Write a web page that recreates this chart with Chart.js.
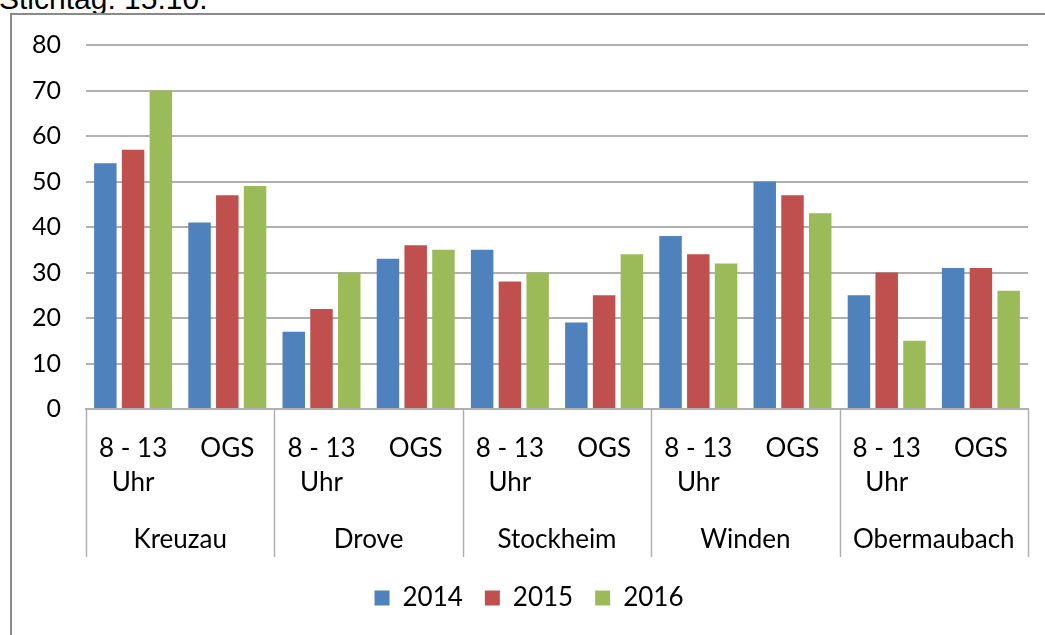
<!DOCTYPE html>
<html>
<head>
<meta charset="utf-8">
<script src="https://cdn.jsdelivr.net/npm/chart.js@4.4.1/dist/chart.umd.min.js"></script>
<style>
  html,body{margin:0;padding:0;background:#fff;overflow:hidden}
  #wrap{position:relative;width:1045px;height:635px}
  #stichtag{position:absolute;left:-1px;top:-16px;font:30px/30px "Liberation Sans",Arial,sans-serif;color:#000;white-space:nowrap}
  #frame{position:absolute;left:10px;top:13px;width:1100px;height:700px;border:2px solid #8a8a8a;box-sizing:border-box}
  #chart-box{position:absolute;left:0;top:0;width:1045px;height:635px}
</style>
</head>
<body>
<div id="wrap">
  <div id="stichtag">Stichtag: 15.10.</div>
  <div id="frame"></div>
  <div id="chart-box"><canvas id="kita-chart"></canvas></div>
</div>
<script>
// categories (inner) and groups (outer)
const subLabels = [['8 - 13','Uhr'],'OGS',['8 - 13','Uhr'],'OGS',['8 - 13','Uhr'],'OGS',['8 - 13','Uhr'],'OGS',['8 - 13','Uhr'],'OGS'];
const groups = ['Kreuzau','Drove','Stockheim','Winden','Obermaubach'];
const years = ['2014','2015','2016'];

const vals2014 = [54,41,17,33,35,19,38,50,25,31];
const vals2015 = [57,47,22,36,28,25,34,47,30,31];
const vals2016 = [70,49,30,35,30,34,32,43,15,26];

const yTicks = [0,10,20,30,40,50,60,70,80];

const colors = ['#4F81BD','#C0504D','#9BBB59'];
const gridColor = '#b0b0b0';
const txt = '#000';

// group separator lines below the category axis
const groupLines = {
  id: 'groupLines',
  afterDraw(chart) {
    const x2 = chart.scales.x2, area = chart.chartArea, ctx = chart.ctx;
    ctx.save();
    ctx.strokeStyle = gridColor;
    ctx.lineWidth = 1.5;
    for (let i = 0; i <= groups.length; i++) {
      const px = Math.round(x2.getPixelForValue(i - 0.5)) + 0.5;
      ctx.beginPath();
      ctx.moveTo(px, area.bottom);
      ctx.lineTo(px, x2.top + 59);
      ctx.stroke();
    }
    ctx.restore();
  }
};

const seriesData = [vals2014, vals2015, vals2016];

new Chart(document.getElementById('kita-chart'), {
  type: 'bar',
  data: {
    labels: subLabels,
    datasets: years.map((y,i) => ({
      label: y,
      data: seriesData[i],
      backgroundColor: colors[i],
      borderWidth: 0,
      categoryPercentage: 0.884,
      barPercentage: 0.81,
    })),
  },
  options: {
    responsive: true, maintainAspectRatio: false,
    animation: false,
    layout: { padding: { left: 30, right: 17, top: 45, bottom: 14 } },
    plugins: {
      legend: {
        position: 'bottom',
        labels: { font: { family: 'Lato', size: 26 }, color: txt, boxWidth: 15, boxHeight: 15, padding: 22 },
      },
      tooltip: { enabled: false },
    },
    scales: {
      x: {
        offset: true,
        grid: { display: false, drawTicks: false },
        border: { display: true, color: gridColor, width: 2 },
        ticks: { font: { family: 'Lato', size: 26, lineHeight: 1.32 }, color: txt, padding: 22, maxRotation: 0, autoSkip: false },
        afterFit: s => { s.height = 89; },
      },
      x2: {
        type: 'category', labels: groups, position: 'bottom', offset: true,
        grid: { display: false, drawTicks: false },
        border: { display: false },
        ticks: { font: { family: 'Lato', size: 26, lineHeight: 1.32 }, color: txt, padding: 24, maxRotation: 0, autoSkip: false },
        afterFit: s => { s.height = 65; },
      },
      y: {
        min: yTicks[0], max: yTicks[yTicks.length-1],
        afterBuildTicks: s => { s.ticks = yTicks.map(v => ({ value: v })); },
        grid: { color: gridColor, lineWidth: 2, drawTicks: false },
        border: { display: false },
        ticks: { font: { family: 'Lato', size: 25 }, color: txt, padding: 25 },
        afterFit: s => { s.width = 56; },
      },
    },
  },
  plugins: [groupLines],
});
</script>
</body>
</html>
